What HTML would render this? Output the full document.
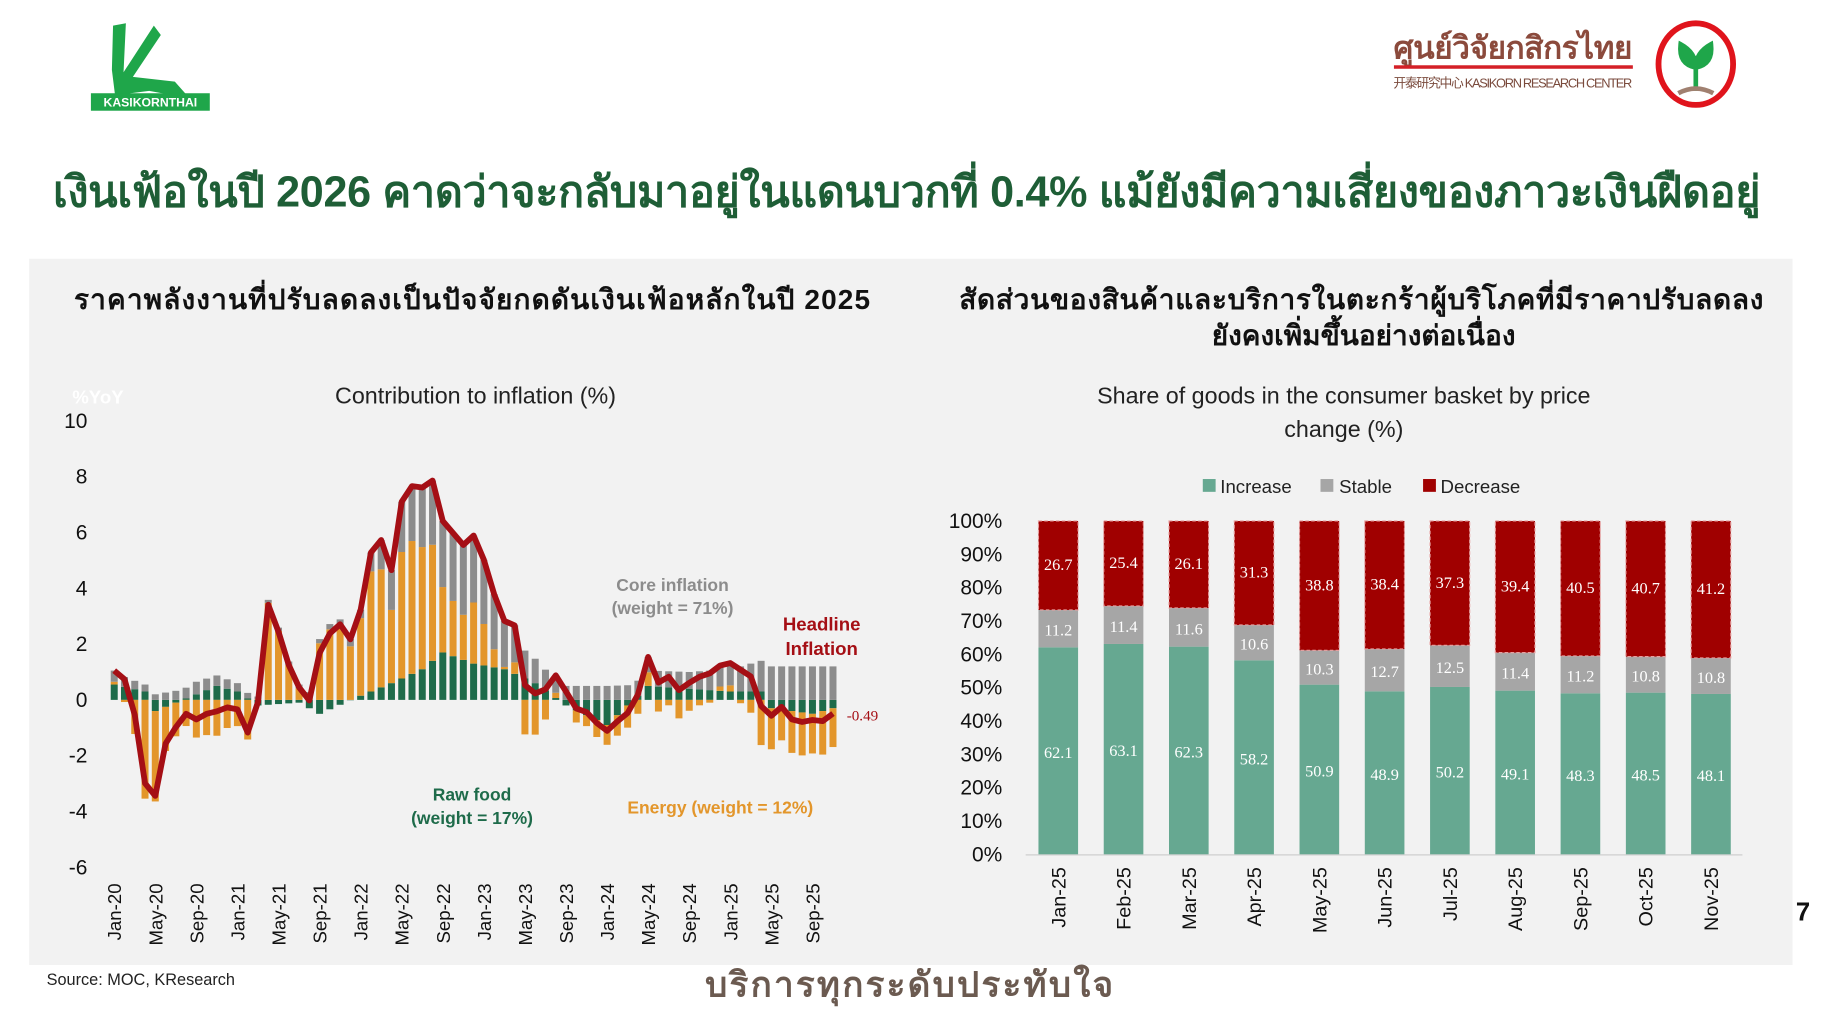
<!DOCTYPE html>
<html><head><meta charset="utf-8">
<style>
html,body{margin:0;padding:0;background:#fff;overflow:hidden}
#wrap{position:absolute;left:0;top:0;width:1560px;height:871px;transform:scale(1.1655);transform-origin:0 0;font-family:"Liberation Sans","DejaVu Sans",sans-serif}
</style></head><body>
<div id="wrap">
<svg id="s" width="1560" height="871" viewBox="0 0 1560 871" xmlns="http://www.w3.org/2000/svg" font-family="Liberation Sans, DejaVu Sans, sans-serif">
<rect x="25" y="222" width="1513" height="606" fill="#f2f2f2"/>
<path d="M97 22 L108 20 L106 62 L132 22 L138 30 L114 66 L150 70 L166 88 L150 82 L128 78 L112 80 L100 92 L96 60 Z" fill="#1fa64a"/>
<rect x="78" y="80" width="102" height="15" fill="#1fa64a"/>
<text x="129" y="91.5" font-size="10.5" font-weight="bold" fill="#fff" text-anchor="middle">KASIKORNTHAI</text>
<text x="1298" y="50" font-size="27" font-weight="bold" fill="#8b4a3c" text-anchor="middle" textLength="205">ศูนย์วิจัยกสิกรไทย</text>
<rect x="1196" y="56" width="205" height="3" fill="#d42027"/>
<text x="1298" y="75" font-size="11" fill="#7a4a3c" text-anchor="middle" textLength="205">开泰研究中心 KASIKORN RESEARCH CENTER</text>
<ellipse cx="1455" cy="55" rx="32" ry="35" fill="#fff" stroke="#e0141c" stroke-width="5"/>
<path d="M1455 78 L1455 48 M1455 58 Q1440 55 1442 38 Q1455 45 1455 58 M1455 58 Q1470 55 1468 38 Q1455 45 1455 58" stroke="#1fa64a" stroke-width="4" fill="#1fa64a"/>
<path d="M1440 80 Q1455 72 1470 80" stroke="#a08070" stroke-width="4" fill="none"/>
<text x="778" y="177" font-size="37" font-weight="bold" fill="#1e5e36" text-anchor="middle" textLength="1465">เงินเฟ้อในปี 2026 คาดว่าจะกลับมาอยู่ในแดนบวกที่ 0.4% แม้ยังมีความเสี่ยงของภาวะเงินฝืดอยู่</text>
<text x="405" y="265" font-size="24" font-weight="bold" fill="#111" text-anchor="middle" textLength="683">ราคาพลังงานที่ปรับลดลงเป็นปัจจัยกดดันเงินเฟ้อหลักในปี 2025</text>
<text x="1168" y="265" font-size="24" font-weight="bold" fill="#111" text-anchor="middle" textLength="690">สัดส่วนของสินค้าและบริการในตะกร้าผู้บริโภคที่มีราคาปรับลดลง</text>
<text x="1170" y="296" font-size="24" font-weight="bold" fill="#111" text-anchor="middle">ยังคงเพิ่มขึ้นอย่างต่อเนื่อง</text>
<text x="408" y="346" font-size="20" fill="#222" text-anchor="middle">Contribution to inflation (%)</text>
<text x="62" y="346" font-size="16" font-weight="bold" fill="#fff">%YoY</text>
<text x="1153" y="346" font-size="20" fill="#222" text-anchor="middle">Share of goods in the consumer basket by price</text>
<text x="1153" y="375" font-size="20" fill="#222" text-anchor="middle">change (%)</text>
<g id="left"></g><g id="right"></g>
<text x="577" y="507" font-size="15" font-weight="bold" fill="#8c8c8c" text-anchor="middle">Core inflation</text>
<text x="577" y="527" font-size="15" font-weight="bold" fill="#8c8c8c" text-anchor="middle">(weight = 71%)</text>
<text x="705" y="541" font-size="16" font-weight="bold" fill="#a50f15" text-anchor="middle">Headline</text>
<text x="705" y="562" font-size="16" font-weight="bold" fill="#a50f15" text-anchor="middle">Inflation</text>
<text x="740" y="618" font-size="13" fill="#a50f15" font-family="Liberation Serif, serif" text-anchor="middle">-0.49</text>
<text x="405" y="687" font-size="15" font-weight="bold" fill="#1e6b4a" text-anchor="middle">Raw food</text>
<text x="405" y="707" font-size="15" font-weight="bold" fill="#1e6b4a" text-anchor="middle">(weight = 17%)</text>
<text x="618" y="698" font-size="15" font-weight="bold" fill="#e3962b" text-anchor="middle">Energy (weight = 12%)</text>
<rect x="1032" y="411" width="11" height="11" fill="#66a891"/><text x="1047" y="423" font-size="16" fill="#222">Increase</text>
<rect x="1133" y="411" width="11" height="11" fill="#a6a6a6"/><text x="1149" y="423" font-size="16" fill="#222">Stable</text>
<rect x="1221" y="411" width="11" height="11" fill="#a00000"/><text x="1236" y="423" font-size="16" fill="#222">Decrease</text>
<text x="1547" y="790" font-size="22" font-weight="bold" fill="#111" text-anchor="middle">7</text>
<text x="40" y="845" font-size="14" fill="#222">Source: MOC, KResearch</text>
<text x="780" y="855" font-size="30" font-weight="bold" fill="#6b5a50" text-anchor="middle" textLength="350">บริการทุกระดับประทับใจ</text>
</svg>
</div>
<script>
const NS="http://www.w3.org/2000/svg";
function el(p,t,a,txt){const e=document.createElementNS(NS,t);for(const k in a)e.setAttribute(k,a[k]);if(txt!==undefined)e.textContent=txt;p.appendChild(e);return e;}
const L=document.getElementById('left'),R=document.getElementById('right');
const H=[1.05,0.74,-0.54,-2.99,-3.44,-1.57,-0.98,-0.5,-0.7,-0.5,-0.41,-0.27,-0.34,-1.17,-0.08,3.41,2.44,1.25,0.45,-0.02,1.68,2.38,2.71,2.17,3.23,5.28,5.73,4.65,7.1,7.66,7.61,7.86,6.41,5.98,5.55,5.89,5.02,3.79,2.83,2.67,0.53,0.23,0.38,0.88,0.3,-0.31,-0.44,-0.83,-1.11,-0.77,-0.47,0.19,1.54,0.62,0.83,0.35,0.61,0.83,0.95,1.23,1.32,1.08,0.84,-0.22,-0.57,-0.25,-0.7,-0.79,-0.72,-0.76,-0.49];
const n=H.length;
function lerp(pts,i){for(let k=0;k<pts.length-1;k++){const[a,va]=pts[k],[b,vb]=pts[k+1];if(i>=a&&i<=b)return va+(vb-va)*(i-a)/(b-a);}return pts[pts.length-1][1];}
const corePts=[[0,0.4],[4,0.2],[8,0.45],[12,0.3],[14,0.1],[20,0.15],[24,0.3],[28,1.8],[31,2.3],[34,2.5],[36,2.3],[40,1.0],[44,0.5],[48,0.5],[56,0.6],[60,0.8],[64,1.2],[70,1.2]];
const foodPts=[[0,0.55],[3,0.3],[4,-0.4],[10,0.5],[12,0.3],[14,-0.2],[18,-0.1],[20,-0.5],[24,0.15],[27,0.6],[30,1.1],[32,1.7],[35,1.3],[38,1.1],[41,0.6],[44,-0.2],[48,-0.9],[52,0.5],[56,0.4],[60,0.3],[63,0.3],[64,-0.3],[68,-0.5],[70,-0.3]];
const y0=600.5,k=23.94,x0=98,dx=8.81;
const Y=v=>y0-v*k;
for(let v=-6;v<=10;v+=2)el(L,'text',{x:75,y:Y(v)+6,'font-size':18,fill:'#111','text-anchor':'end'},v);
for(let i=0;i<n;i++){
 const c=lerp(corePts,i),f=lerp(foodPts,i),e=H[i]-c-f;
 const parts=[[f,'#1e6b4a'],[e,'#e3962b'],[c,'#8c8c8c']];
 let pos=0,neg=0;const x=x0+i*dx-3;
 for(const[v,col]of parts){if(v>=0){el(L,'rect',{x:x,y:Y(pos+v),width:6,height:v*k,fill:col});pos+=v;}else{el(L,'rect',{x:x,y:Y(neg),width:6,height:-v*k,fill:col});neg+=v;}}
}
el(L,'polyline',{points:H.map((v,i)=>(x0+i*dx)+','+Y(v)).join(' '),fill:'none',stroke:'#a50f15','stroke-width':5,'stroke-linejoin':'round'});
const mn=['Jan','May','Sep'];
for(let i=0;i<n;i+=4){const x=x0+i*dx+6,yr=20+Math.floor(i/12);el(L,'text',{x:0,y:0,'font-size':16,fill:'#111','text-anchor':'end',transform:`translate(${x},758) rotate(-90)`},mn[(i%12)/4]+'-'+yr);}
const inc=[62.1,63.1,62.3,58.2,50.9,48.9,50.2,49.1,48.3,48.5,48.1],st=[11.2,11.4,11.6,10.6,10.3,12.7,12.5,11.4,11.2,10.8,10.8],de=[26.7,25.4,26.1,31.3,38.8,38.4,37.3,39.4,40.5,40.7,41.2];
const mo=['Jan','Feb','Mar','Apr','May','Jun','Jul','Aug','Sep','Oct','Nov'];
const b0=733,bk=2.86;
for(let v=0;v<=100;v+=10)el(R,'text',{x:860,y:b0-v*bk+6,'font-size':18,fill:'#111','text-anchor':'end'},v+'%');
el(R,'line',{x1:880,y1:b0+0.5,x2:1495,y2:b0+0.5,stroke:'#cfcfcf','stroke-width':1});
for(let i=0;i<11;i++){
 const cx=908+i*56,x=cx-17;
 const yi=b0-inc[i]*bk,ys=yi-st[i]*bk;
 el(R,'rect',{x:x,y:yi,width:34,height:inc[i]*bk,fill:'#66a891'});
 el(R,'rect',{x:x,y:ys,width:34,height:st[i]*bk,fill:'#a6a6a6'});
 el(R,'rect',{x:x,y:b0-100*bk,width:34,height:ys-(b0-100*bk),fill:'#a00000',stroke:'#e8a0a0','stroke-width':1,'stroke-dasharray':'3,2'});
 el(R,'text',{x:cx,y:(yi+b0)/2+6,'font-size':14,fill:'#fff','text-anchor':'middle',"font-family":"Liberation Serif, serif"},inc[i]);
 el(R,'text',{x:cx,y:(yi+ys)/2+6,'font-size':14,fill:'#fff','text-anchor':'middle',"font-family":"Liberation Serif, serif"},st[i]);
 el(R,'text',{x:cx,y:(ys+b0-100*bk)/2+4,'font-size':14,fill:'#fff','text-anchor':'middle',"font-family":"Liberation Serif, serif"},de[i]);
 el(R,'text',{x:0,y:0,'font-size':17,fill:'#111','text-anchor':'end',transform:`translate(${cx+6},744) rotate(-90)`},mo[i]+'-25');
}
</script>
</body></html>
